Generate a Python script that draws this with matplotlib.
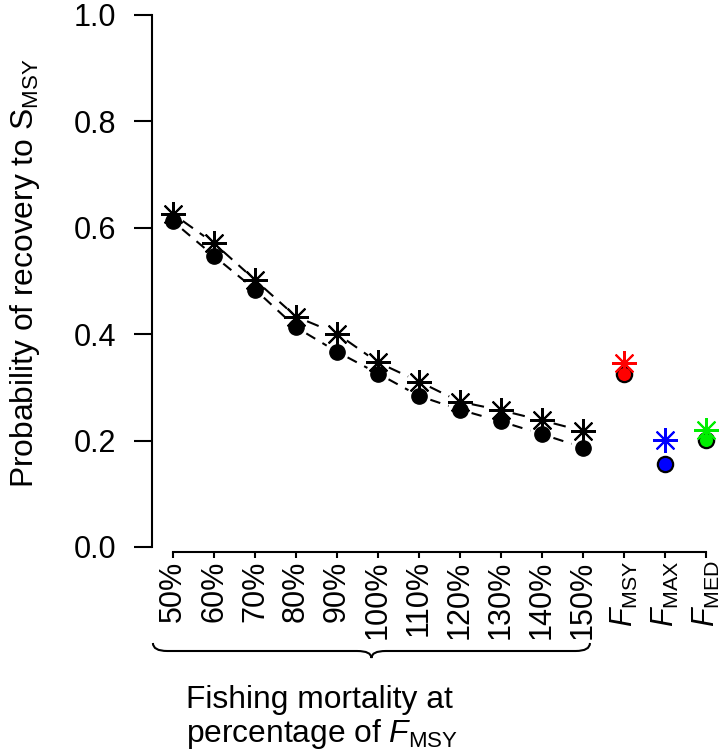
import numpy as np
import matplotlib
matplotlib.use("Agg")
import matplotlib.pyplot as plt
from matplotlib.path import Path
import matplotlib.patches as patches
import matplotlib.transforms as mtransforms

plt.rcParams['font.family'] = 'Liberation Sans'
plt.rcParams['mathtext.fontset'] = 'custom'
plt.rcParams['mathtext.rm'] = 'Liberation Sans'
plt.rcParams['mathtext.it'] = 'Liberation Sans:italic'
plt.rcParams['mathtext.sf'] = 'Liberation Sans'

# data
pct_labels = ['50%', '60%', '70%', '80%', '90%', '100%', '110%',
              '120%', '130%', '140%', '150%']
ref_labels = [r'$F_{\mathrm{MSY}}$', r'$F_{\mathrm{MAX}}$', r'$F_{\mathrm{MED}}$']
ref_colors = ['#ff0000', '#0000ff', '#00ee00']

circle_pct = [0.612, 0.547, 0.484, 0.413, 0.367, 0.326, 0.284, 0.258, 0.236, 0.212, 0.187]
star_pct = [0.626, 0.571, 0.502, 0.433, 0.401, 0.347, 0.311, 0.273, 0.257, 0.238, 0.218]
circle_ref = [0.325, 0.156, 0.202]
star_ref = [0.346, 0.201, 0.220]

W, H = 724, 753
fig = plt.figure(figsize=(W / 100, H / 100), dpi=100)
# axes placed in pixel units
left, right, top, bottom = 152, 724, 5, 552
ax = fig.add_axes([left / W, 1 - bottom / H, (right - left) / W, (bottom - top) / H])

x_pct = np.arange(1, len(pct_labels) + 1)
x_ref = np.arange(len(pct_labels) + 1, len(pct_labels) + len(ref_labels) + 1)

ax.set_xlim(1 - 21 / 41, 1 + (right - 173) / 41)
ax.set_ylim(-5 / 532, 1 + 10 / 532)


def gapped_line(x, y, gap=12, **kw):
    # like R's type="b": segments stop short of the points
    pts = ax.transData.transform(np.column_stack([x, y]))
    inv = ax.transData.inverted()
    for p0, p1 in zip(pts[:-1], pts[1:]):
        d = p1 - p0
        n = np.hypot(*d)
        if n <= 2 * gap:
            continue
        u = d / n
        a = inv.transform(p0 + u * gap)
        b = inv.transform(p1 - u * gap)
        ax.plot([a[0], b[0]], [a[1], b[1]], color='black', lw=1.5,
                solid_capstyle='butt', dash_capstyle='butt', **kw)


gapped_line(x_pct, star_pct, dashes=(6, 4))
gapped_line(x_pct, circle_pct, dashes=(5, 4))

star = (8, 2, 0)
ax.plot(x_pct, circle_pct, 'o', color='black', ms=11, zorder=3)
ax.plot(x_pct, star_pct, marker=star, ls='none', color='black', ms=18, mew=1.5, zorder=3)
for xi, c, s, col in zip(x_ref, circle_ref, star_ref, ref_colors):
    ax.plot(xi, c, 'o', mfc=col, mec='black', mew=1.6, ms=11, zorder=3)
    ax.plot(xi, s, marker=star, ls='none', color=col, ms=18, mew=1.5, zorder=3)

for side in ['top', 'right']:
    ax.spines[side].set_visible(False)
ax.spines['left'].set_bounds(0, 1)
ax.spines['bottom'].set_bounds(1, 14)
for side in ['left', 'bottom']:
    ax.spines[side].set_linewidth(1.5)

ax.set_yticks(np.arange(0, 1.01, 0.2))
ax.set_yticklabels(['%.1f' % v for v in np.arange(0, 1.01, 0.2)])
ax.set_xticks(np.concatenate([x_pct, x_ref]))
ax.set_xticklabels(pct_labels + ref_labels, rotation=90, va='top', ha='center')
ax.tick_params(axis='y', length=13, width=1.5, labelsize=22, pad=13)
ax.tick_params(axis='x', length=4, width=1.5, labelsize=22, pad=2)

ax.set_ylabel(r'Probability of recovery to $\mathrm{S}_{\mathrm{MSY}}$', fontsize=22.9)
ax.yaxis.set_label_coords(-0.1923, 0.509)

# curly brace under the percentage labels
trans = mtransforms.blended_transform_factory(ax.transData, fig.transFigure)
x0, x1 = 0.51, 11.17
xc = (x0 + x1) / 2
yt, ym, yb = 1 - 643 / H, 1 - 651 / H, 1 - 658 / H
d = 0.35
verts = [(x0, yt), (x0, ym), (x0 + d, ym), (x0 + d, ym),
         (xc - d, ym), (xc, ym), (xc, yb),
         (xc, ym), (xc + d, ym), (x1 - d, ym),
         (x1 - d, ym), (x1, ym), (x1, yt)]
codes = [Path.MOVETO, Path.CURVE3, Path.CURVE3, Path.LINETO,
         Path.LINETO, Path.CURVE3, Path.CURVE3,
         Path.CURVE3, Path.CURVE3, Path.LINETO,
         Path.LINETO, Path.CURVE3, Path.CURVE3]
brace = patches.PathPatch(Path(verts, codes), transform=trans, fill=False,
                          lw=1.5, clip_on=False)
fig.add_artist(brace)

fig.text(186 / W, 1 - 708 / H, 'Fishing mortality at', fontsize=22.9, va='baseline')
fig.text(186 / W, 1 - 742 / H, r'percentage of $F_{\mathrm{MSY}}$', fontsize=22.9, va='baseline')

fig.savefig('out.png', dpi=100)
